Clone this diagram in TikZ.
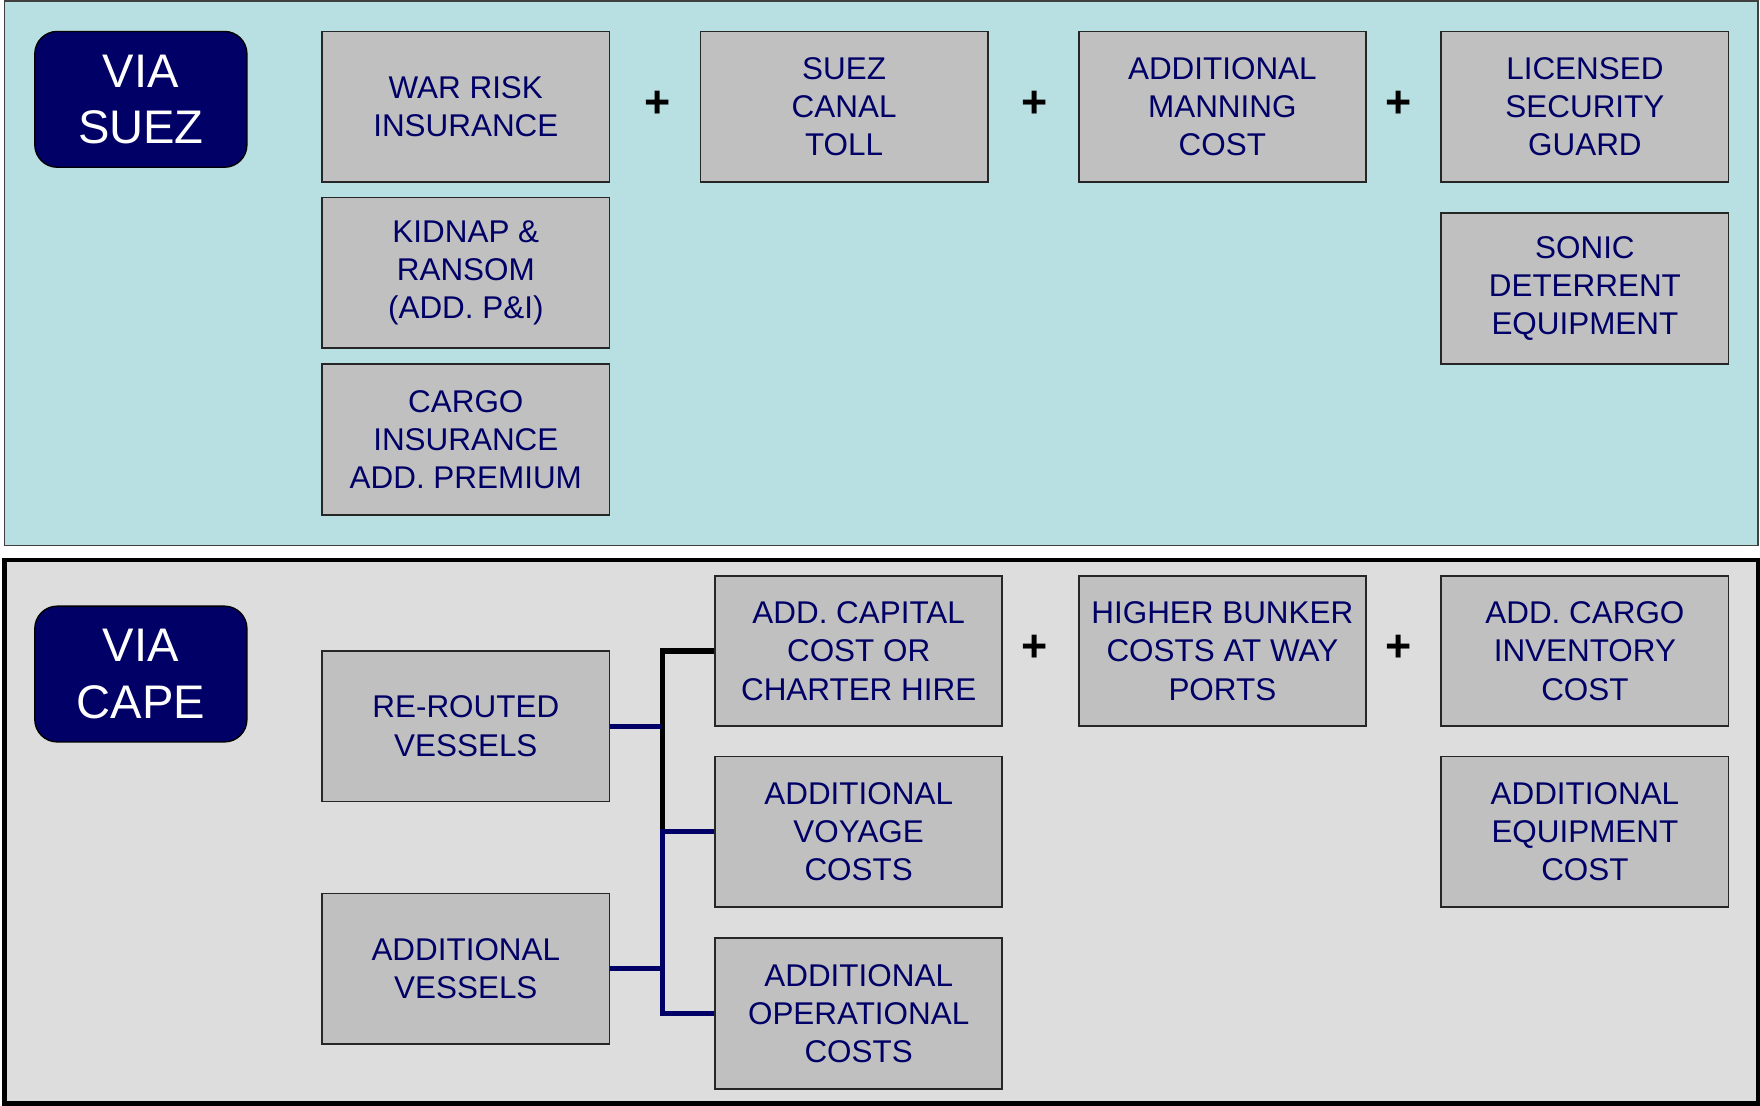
\documentclass[tikz,border=0pt]{standalone}
\usepackage{fontspec}
\setmainfont{Liberation Sans}
\definecolor{panelblue}{HTML}{B8DFE2}
\definecolor{panelgrey}{HTML}{DDDDDD}
\definecolor{boxgrey}{HTML}{C0C0C0}
\definecolor{navy}{HTML}{000066}
\tikzset{
  costbox/.style={draw=black!85, line width=1.6pt, fill=boxgrey, minimum width=256pt, minimum height=134pt,
    inner sep=0pt, align=center, text=navy, font=\fontsize{28}{34}\selectfont},
  viabox/.style={draw=black, line width=1.2pt, fill=navy, rounded corners=20pt, minimum width=189pt,
    minimum height=121pt, inner sep=0pt, align=center, text=white, font=\fontsize{42}{50}\selectfont},
  plussign/.style={inner sep=0pt, font=\fontsize{40}{40}\selectfont\bfseries},
  linkline/.style={line width=4.6pt},
}
\begin{document}
\begin{tikzpicture}[x=1pt,y=-1pt]
\useasboundingbox (0,0) rectangle (1568,985);
% panels
\draw[fill=panelblue, draw=black!75, line width=1.6pt] (4,1) rectangle (1566,486);
\draw[fill=panelgrey, draw=black, line width=4pt] (4,499) rectangle (1566,983);

% VIA SUEZ
\node[viabox] (suez) at (125.5,88.5) {VIA\\SUEZ};
\node[costbox] (war) at (415,95) {WAR RISK\\INSURANCE};
\node[costbox] (toll) at (752,95) {SUEZ\\CANAL\\TOLL};
\node[costbox] (man) at (1089,95) {ADDITIONAL\\MANNING\\COST};
\node[costbox] (lsg) at (1412,95) {LICENSED\\SECURITY\\GUARD};
\node[costbox] (kid) at (415,243) {KIDNAP \&\\RANSOM\\(ADD. P\&I)};
\node[costbox] (cargo) at (415,391.5) {CARGO\\INSURANCE\\ADD. PREMIUM};
\node[costbox] (sonic) at (1412,257) {SONIC\\DETERRENT\\EQUIPMENT};
\node[plussign] (p1) at (586,93) {+};
\node[plussign] (p2) at (922,93) {+};
\node[plussign] (p3) at (1246,93) {+};

% VIA CAPE
\node[viabox] (cape) at (125.5,600.5) {VIA\\CAPE};
\node[costbox] (rer) at (415,647) {RE-ROUTED\\VESSELS};
\node[costbox] (addv) at (415,863) {ADDITIONAL\\VESSELS};
\node[costbox] (cap) at (765,580) {ADD. CAPITAL\\COST OR\\CHARTER HIRE};
\node[costbox] (voy) at (765,741) {ADDITIONAL\\VOYAGE\\COSTS};
\node[costbox] (ops) at (765,903) {ADDITIONAL\\OPERATIONAL\\COSTS};
\node[costbox] (bunk) at (1089,580) {HIGHER BUNKER\\COSTS AT WAY\\PORTS};
\node[costbox] (inv) at (1412,580) {ADD. CARGO\\INVENTORY\\COST};
\node[costbox] (equip) at (1412,741) {ADDITIONAL\\EQUIPMENT\\COST};
\node[plussign] (p4) at (922,578) {+};
\node[plussign] (p5) at (1246,578) {+};

% connectors
\coordinate (jv) at (590,741);
\draw[linkline, black] (cap.west) -| (jv);
\draw[linkline, navy] (voy.west) -- (jv) |- (ops.west);
\draw[linkline, navy] (rer.east) -- (rer.east -| jv);
\draw[linkline, navy] (addv.east) -- (addv.east -| jv);
\end{tikzpicture}
\end{document}
